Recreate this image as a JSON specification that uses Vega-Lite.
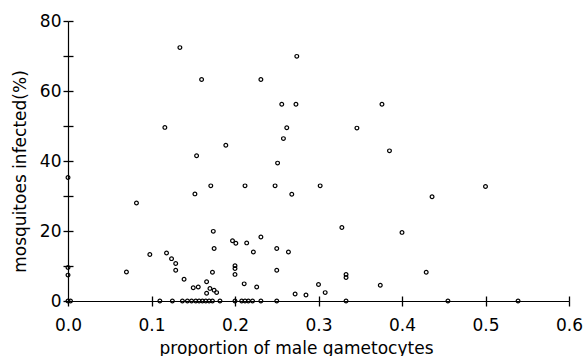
{
  "$schema": "https://vega.github.io/schema/vega-lite/v6.json",
  "autosize": "none",
  "width": 501,
  "height": 280,
  "padding": {"left": 68, "top": 21, "right": 14, "bottom": 55},
  "background": "white",
  "config": {"font": "DejaVu Sans", "view": {"stroke": null}},
  "data": {"values": [
    {"p": 0.134, "inf": 72.4}, {"p": 0.274, "inf": 69.9}, {"p": 0.160, "inf": 63.3}, {"p": 0.231, "inf": 63.3},
    {"p": 0.256, "inf": 56.2}, {"p": 0.273, "inf": 56.2}, {"p": 0.376, "inf": 56.2}, {"p": 0.116, "inf": 49.6},
    {"p": 0.262, "inf": 49.5}, {"p": 0.346, "inf": 49.4}, {"p": 0.258, "inf": 46.4}, {"p": 0.189, "inf": 44.5},
    {"p": 0.385, "inf": 42.9}, {"p": 0.154, "inf": 41.5}, {"p": 0.251, "inf": 39.4}, {"p": 0.0, "inf": 35.3},
    {"p": 0.171, "inf": 32.9}, {"p": 0.212, "inf": 32.9}, {"p": 0.248, "inf": 32.9}, {"p": 0.302, "inf": 32.9},
    {"p": 0.500, "inf": 32.7}, {"p": 0.152, "inf": 30.6}, {"p": 0.268, "inf": 30.5}, {"p": 0.436, "inf": 29.8},
    {"p": 0.082, "inf": 28.0}, {"p": 0.328, "inf": 21.0}, {"p": 0.174, "inf": 19.9}, {"p": 0.400, "inf": 19.6},
    {"p": 0.231, "inf": 18.3}, {"p": 0.197, "inf": 17.2}, {"p": 0.201, "inf": 16.5}, {"p": 0.214, "inf": 16.6},
    {"p": 0.175, "inf": 15.0}, {"p": 0.250, "inf": 15.0}, {"p": 0.222, "inf": 14.0}, {"p": 0.264, "inf": 14.0},
    {"p": 0.118, "inf": 13.7}, {"p": 0.098, "inf": 13.3}, {"p": 0.124, "inf": 12.1}, {"p": 0.129, "inf": 10.7},
    {"p": 0.200, "inf": 10.1}, {"p": 0.0, "inf": 9.6}, {"p": 0.200, "inf": 9.3}, {"p": 0.129, "inf": 8.8},
    {"p": 0.250, "inf": 8.8}, {"p": 0.070, "inf": 8.3}, {"p": 0.173, "inf": 8.2}, {"p": 0.429, "inf": 8.2},
    {"p": 0.200, "inf": 7.6}, {"p": 0.333, "inf": 7.6}, {"p": 0.0, "inf": 7.4}, {"p": 0.333, "inf": 6.7},
    {"p": 0.139, "inf": 6.2}, {"p": 0.166, "inf": 5.5}, {"p": 0.211, "inf": 4.9}, {"p": 0.300, "inf": 4.7},
    {"p": 0.374, "inf": 4.5}, {"p": 0.156, "inf": 4.0}, {"p": 0.226, "inf": 4.0}, {"p": 0.150, "inf": 3.8},
    {"p": 0.170, "inf": 3.6}, {"p": 0.175, "inf": 3.1}, {"p": 0.178, "inf": 2.4}, {"p": 0.308, "inf": 2.4},
    {"p": 0.166, "inf": 2.2}, {"p": 0.272, "inf": 2.0}, {"p": 0.285, "inf": 1.7},
    {"p": 0.0, "inf": 0}, {"p": 0.003, "inf": 0}, {"p": 0.110, "inf": 0}, {"p": 0.125, "inf": 0},
    {"p": 0.137, "inf": 0}, {"p": 0.143, "inf": 0}, {"p": 0.148, "inf": 0}, {"p": 0.153, "inf": 0},
    {"p": 0.157, "inf": 0}, {"p": 0.161, "inf": 0}, {"p": 0.165, "inf": 0}, {"p": 0.169, "inf": 0},
    {"p": 0.173, "inf": 0}, {"p": 0.182, "inf": 0}, {"p": 0.200, "inf": 0}, {"p": 0.208, "inf": 0},
    {"p": 0.212, "inf": 0}, {"p": 0.216, "inf": 0}, {"p": 0.221, "inf": 0}, {"p": 0.231, "inf": 0},
    {"p": 0.250, "inf": 0}, {"p": 0.333, "inf": 0}, {"p": 0.455, "inf": 0}, {"p": 0.539, "inf": 0}
  ]},
  "layer": [
    {
      "mark": {"type": "point", "shape": "circle", "filled": false, "size": 14, "stroke": "black", "strokeWidth": 1.2, "opacity": 1, "clip": false},
      "encoding": {
        "x": {"field": "p", "type": "quantitative",
          "scale": {"domain": [0, 0.6], "nice": false, "zero": false},
          "axis": {"orient": "bottom", "values": [0, 0.1, 0.2, 0.3, 0.4, 0.5, 0.6], "format": ".1f", "grid": false,
            "domainColor": "black", "domainWidth": 1.2, "ticks": true, "tickColor": "black", "tickWidth": 1.3, "tickSize": 5,
            "labelFontSize": 17, "labelColor": "black", "labelPadding": 11, "labelFlush": false,
            "title": "proportion of male gametocytes", "titleFontSize": 17, "titleFontWeight": "normal", "titleColor": "black",
            "titleX": 228, "titleY": 52, "titleAlign": "center", "titleBaseline": "alphabetic"}},
        "y": {"field": "inf", "type": "quantitative",
          "scale": {"domain": [0, 80], "nice": false},
          "axis": {"orient": "left", "values": [0, 10, 20, 30, 40, 50, 60, 70, 80], "grid": false,
            "labelExpr": "datum.value % 20 === 0 ? datum.label : ''",
            "domainColor": "black", "domainWidth": 1.2, "ticks": true, "tickColor": "black", "tickWidth": 1.3, "tickSize": 5,
            "labelFontSize": 17, "labelColor": "black", "labelPadding": 2, "labelFlush": false,
            "title": "mosquitoes infected(%)", "titleFontSize": 17, "titleFontWeight": "normal", "titleColor": "black",
            "titleAngle": -90, "titleX": -43, "titleY": 150, "titleAlign": "center", "titleBaseline": "alphabetic"}}
      }
    },
    {
      "mark": {"type": "point", "shape": "circle", "filled": false, "size": 14, "opacity": 0},
      "encoding": {
        "x": {"field": "p", "type": "quantitative",
          "axis": {"orient": "bottom", "values": [0.1, 0.2, 0.3, 0.4, 0.5, 0.6], "grid": false, "domain": false, "labels": false, "title": null,
            "ticks": true, "tickColor": "black", "tickWidth": 1.3, "tickSize": -5}},
        "y": {"field": "inf", "type": "quantitative",
          "axis": {"orient": "left", "values": [10, 20, 30, 40, 50, 60, 70, 80], "grid": false, "domain": false, "labels": false, "title": null,
            "ticks": true, "tickColor": "black", "tickWidth": 1.3, "tickSize": -5}}
      }
    }
  ],
  "resolve": {"axis": {"x": "independent", "y": "independent"}}
}
